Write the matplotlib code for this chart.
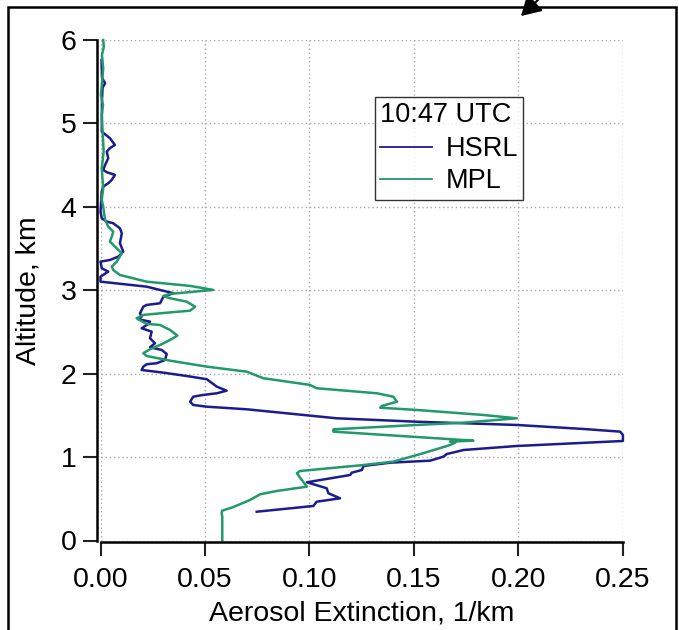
import matplotlib
matplotlib.use("Agg")
import matplotlib.pyplot as plt
from matplotlib.patches import Rectangle, FancyArrowPatch

plt.rcParams['font.family'] = ['Liberation Sans', 'DejaVu Sans']

# MPL (green) profile: extinction (1/km) vs altitude (km)
mpl_ext = [0.0583, 0.0583, 0.0580, 0.0582, 0.0635, 0.0716, 0.0764, 0.0844, 0.0988,
           0.0940, 0.0955, 0.1259, 0.1401, 0.1545, 0.1674, 0.1698, 0.1674, 0.1785,
           0.1115, 0.1115, 0.1514, 0.1736, 0.1993, 0.1832, 0.1514, 0.1339, 0.1347,
           0.1419, 0.1402, 0.1323, 0.1035, 0.1003, 0.0780, 0.0700, 0.0509, 0.0333,
           0.0221, 0.0205, 0.0237, 0.0285, 0.0333, 0.0368, 0.0333, 0.0285, 0.0221,
           0.0173, 0.0205, 0.0317, 0.0429, 0.0453, 0.0413, 0.0333, 0.0301, 0.0333,
           0.0540, 0.0429, 0.0221, 0.0093, 0.0061, 0.0054, 0.0078, 0.0102, 0.0069,
           0.0045, 0.0054, 0.0061, 0.0037, 0.0022, 0.0013, 0.0006, 0.0013, 0.0006,
           0.0015, 0.0011, 0.0006, 0.0012, 0.0002, 0.0013, 0.0007, 0.0016, 0.0013]
mpl_alt = [0.00, 0.285, 0.33, 0.357, 0.40, 0.486, 0.554, 0.594, 0.645,
           0.806, 0.833, 0.905, 0.945, 1.046, 1.145, 1.173, 1.185, 1.197,
           1.305, 1.333, 1.385, 1.412, 1.465, 1.505, 1.565, 1.592, 1.613,
           1.664, 1.724, 1.765, 1.825, 1.865, 1.945, 2.024, 2.084, 2.156,
           2.212, 2.245, 2.293, 2.344, 2.404, 2.456, 2.524, 2.584, 2.596,
           2.664, 2.704, 2.731, 2.755, 2.803, 2.863, 2.904, 2.932, 2.956,
           3.004, 3.052, 3.103, 3.183, 3.243, 3.283, 3.343, 3.444, 3.523,
           3.583, 3.643, 3.703, 3.763, 3.843, 4.002, 4.083, 4.22, 4.46,
           4.66, 4.86, 5.10, 5.22, 5.34, 5.66, 5.82, 5.92, 6.00]

# HSRL (blue) profile
hsrl_ext = [0.0748, 0.1019, 0.1035, 0.1147, 0.1091, 0.1083, 0.0988, 0.1195, 0.1203,
            0.1251, 0.1259, 0.1387, 0.1578, 0.1642, 0.1658, 0.1706, 0.1738, 0.1993,
            0.2501, 0.2501, 0.2488, 0.2312, 0.1993, 0.1514, 0.1131, 0.0700, 0.0509,
            0.0444, 0.0429, 0.0444, 0.0492, 0.0557, 0.0604, 0.0557, 0.0509, 0.0413,
            0.0301, 0.0197, 0.0205, 0.0221, 0.0269, 0.0309, 0.0317, 0.0293, 0.0237,
            0.0261, 0.0237, 0.0245, 0.0197, 0.0229, 0.0237, 0.0181, 0.0197, 0.0189,
            0.0205, 0.0221, 0.0285, 0.0301, 0.0349, 0.0221, 0.0000, 0.0000, 0.0037,
            0.0006, 0.0000, 0.0045, 0.0085, 0.0109, 0.0093, 0.0102, 0.0093, 0.0061,
            0.0030, 0.0006, 0.0000, 0.0006, 0.0013, 0.0037, 0.0054, 0.0069, 0.0030,
            0.0013, 0.0022, 0.0037, 0.0030, 0.0045, 0.0069, 0.0045, 0.0006, 0.0007,
            0.0010, 0.0022, 0.0007, 0.0005]
hsrl_alt = [0.345, 0.414, 0.465, 0.506, 0.566, 0.626, 0.698, 0.785, 0.813,
            0.845, 0.893, 0.933, 0.957, 1.005, 1.037, 1.065, 1.085, 1.133,
            1.193, 1.265, 1.305, 1.337, 1.385, 1.424, 1.465, 1.573, 1.604,
            1.625, 1.664, 1.724, 1.745, 1.765, 1.796, 1.844, 1.933, 1.972,
            2.012, 2.044, 2.084, 2.113, 2.125, 2.164, 2.236, 2.284, 2.317,
            2.364, 2.424, 2.504, 2.544, 2.596, 2.624, 2.652, 2.683, 2.724,
            2.803, 2.824, 2.844, 2.923, 2.964, 3.043, 3.103, 3.163, 3.223,
            3.264, 3.343, 3.363, 3.403, 3.463, 3.564, 3.683, 3.743, 3.803,
            3.823, 3.863, 3.942, 4.182, 4.242, 4.283, 4.323, 4.383, 4.415,
            4.442, 4.502, 4.583, 4.662, 4.703, 4.742, 4.823, 4.902, 5.28,
            5.43, 5.48, 5.55, 5.76]

xticks = [0.00, 0.05, 0.10, 0.15, 0.20, 0.25]
xticklabels = ["0.00", "0.05", "0.10", "0.15", "0.20", "0.25"]
yticks = [0, 1, 2, 3, 4, 5, 6]

W, H = 679, 630
fig = plt.figure(figsize=(W / 100, H / 100), dpi=100)
ax = fig.add_axes([100.5 / W, (H - 540.5) / H, (622.7 - 100.5) / W, (540.5 - 40) / H])

blue = "#1c1c8e"
green = "#22996a"
ax.plot(hsrl_ext, hsrl_alt, color=blue, lw=1.8, label="HSRL", clip_on=False)
ax.plot(mpl_ext, mpl_alt, color=green, lw=1.8, label="MPL", clip_on=False)

ax.set_xlim(0, 0.25)
ax.set_ylim(0, 6)
ax.set_xticks(xticks)
ax.set_xticklabels(xticklabels)
ax.set_yticks(yticks)

for s in ["top", "right"]:
    ax.spines[s].set_visible(False)
ax.spines["left"].set_position(("outward", 2.2))
ax.spines["bottom"].set_position(("outward", 0.8))
for s in ["left", "bottom"]:
    ax.spines[s].set_linewidth(1.8)
    ax.spines[s].set_color("black")

ax.tick_params(axis="both", direction="out", length=10, width=1.5, labelsize=20.5,
               color="#222222", pad=5)
ax.tick_params(axis="x", pad=8)
ax.grid(True, linestyle=(0, (1, 2)), color="#aaaaaa", linewidth=1.0)
ax.set_axisbelow(True)

ax.set_xlabel("Aerosol Extinction, 1/km", fontsize=20.5, labelpad=6)
ax.set_ylabel("Altitude, km", fontsize=20.5, labelpad=14)

leg = ax.legend(title="10:47 UTC", loc="upper left",
                bbox_to_anchor=((375 - 100.5) / 522.2, (540.5 - 96.7) / 500.5),
                fontsize=19.5, title_fontsize=19.5, frameon=True, fancybox=False,
                edgecolor="black", borderpad=0.2, handlelength=1.9, handletextpad=0.5,
                labelspacing=0.22, borderaxespad=0)
leg.get_frame().set_linewidth(1.0)
leg._legend_box.align = "left"
leg._legend_box.sep = 6
for line in leg.get_lines():
    line.set_linewidth(1.3)

# outer frame and arrow
fig.patches.append(Rectangle((8 / W, -0.1), (676 - 8) / W, 1.1 - 7 / H, transform=fig.transFigure,
                             fill=False, edgecolor="black", linewidth=1.8))
arr = FancyArrowPatch((540 / W, 1 + 2 / H), (521 / W, 1 - 16 / H), transform=fig.transFigure,
                      arrowstyle="-|>,head_length=12,head_width=7", color="black", lw=1.5,
                      shrinkA=0, shrinkB=0)
fig.patches.append(arr)

fig.savefig("out.png", dpi=100)
